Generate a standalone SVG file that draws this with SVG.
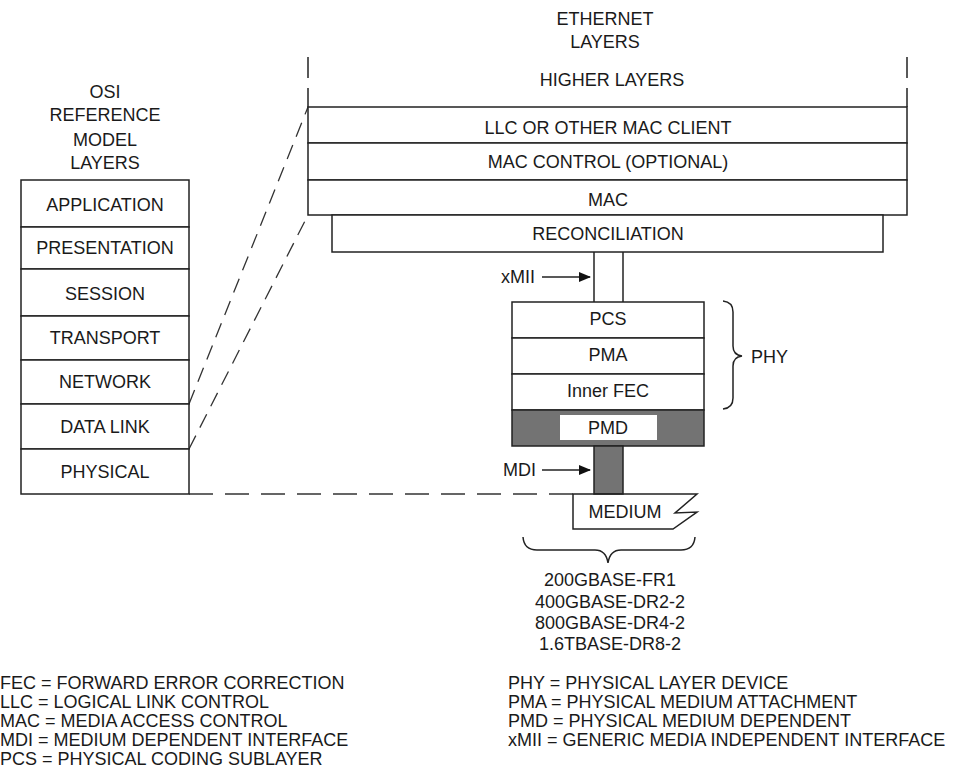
<svg xmlns="http://www.w3.org/2000/svg" width="953" height="771" viewBox="0 0 953 771">
<defs>
<marker id="arr" markerWidth="12" markerHeight="12" refX="11" refY="5" orient="auto" markerUnits="userSpaceOnUse" viewBox="0 0 12 10">
<path d="M0,0 L12,5 L0,10 Z" fill="#111"/>
</marker>
</defs>
<style>
text{font-family:"Liberation Sans",Arial,sans-serif;font-size:18px;fill:#1a1a1a;}
.c{text-anchor:middle;}
.lg{font-size:18px;}
.box{fill:#fff;stroke:#222;stroke-width:1.5;}
.ln{stroke:#222;stroke-width:1.5;fill:none;}
.dash{stroke:#333;stroke-width:1.3;fill:none;stroke-dasharray:15 9;}
.dashb{stroke:#333;stroke-width:1.3;fill:none;stroke-dasharray:24 12;}
.gray{fill:#737373;stroke:#222;stroke-width:1.5;}
</style>
<rect width="953" height="771" fill="#fff"/>

<g id="connectors">
<line class="dash" x1="189" y1="404" x2="308" y2="107"/>
<line class="dash" x1="189" y1="449" x2="308" y2="215"/>
<line class="dashb" x1="189" y1="494" x2="573" y2="494"/>
<line class="ln" x1="594" y1="252" x2="594" y2="302"/>
<line class="ln" x1="623" y1="252" x2="623" y2="302"/>
<line class="ln" x1="542" y1="277" x2="590" y2="277" marker-end="url(#arr)"/>
<line class="ln" x1="542" y1="470" x2="590" y2="470" marker-end="url(#arr)"/>
</g>

<g id="osi-title">
<text class="c" x="105" y="98">OSI</text>
<text class="c" x="105" y="121">REFERENCE</text>
<text class="c" x="105" y="146">MODEL</text>
<text class="c" x="105" y="169">LAYERS</text>
</g>
<g id="osi-application"><rect class="box" x="21" y="180" width="168" height="47"/><text class="c" x="105" y="211">APPLICATION</text></g>
<g id="osi-presentation"><rect class="box" x="21" y="227" width="168" height="42"/><text class="c" x="105" y="254">PRESENTATION</text></g>
<g id="osi-session"><rect class="box" x="21" y="269" width="168" height="47"/><text class="c" x="105" y="300">SESSION</text></g>
<g id="osi-transport"><rect class="box" x="21" y="316" width="168" height="44"/><text class="c" x="105" y="344">TRANSPORT</text></g>
<g id="osi-network"><rect class="box" x="21" y="360" width="168" height="44"/><text class="c" x="105" y="388">NETWORK</text></g>
<g id="osi-datalink"><rect class="box" x="21" y="404" width="168" height="45"/><text class="c" x="105" y="433">DATA LINK</text></g>
<g id="osi-physical"><rect class="box" x="21" y="449" width="168" height="45"/><text class="c" x="105" y="478">PHYSICAL</text></g>

<g id="eth-title">
<text class="c" x="605" y="25">ETHERNET</text>
<text class="c" x="605" y="48">LAYERS</text>
</g>
<g id="eth-higher">
<line class="ln" x1="308" y1="57" x2="308" y2="78"/>
<line class="ln" x1="308" y1="88" x2="308" y2="107"/>
<line class="ln" x1="907" y1="57" x2="907" y2="78"/>
<line class="ln" x1="907" y1="88" x2="907" y2="107"/>
<text class="c" x="612" y="86">HIGHER LAYERS</text>
</g>
<g id="eth-llc"><rect class="box" x="308" y="107" width="599" height="36"/><text class="c" x="608" y="134">LLC OR OTHER MAC CLIENT</text></g>
<g id="eth-maccontrol"><rect class="box" x="308" y="143" width="599" height="37"/><text class="c" x="608" y="168">MAC CONTROL (OPTIONAL)</text></g>
<g id="eth-mac"><rect class="box" x="308" y="180" width="599" height="35"/><text class="c" x="608" y="206">MAC</text></g>
<g id="eth-reconciliation"><rect class="box" x="332" y="215" width="551" height="37"/><text class="c" x="608" y="240">RECONCILIATION</text></g>

<g id="xmii-label"><text x="501" y="283">xMII</text></g>

<g id="phy-pcs"><rect class="box" x="512" y="302" width="192" height="36"/><text class="c" x="608" y="325">PCS</text></g>
<g id="phy-pma"><rect class="box" x="512" y="338" width="192" height="36"/><text class="c" x="608" y="361">PMA</text></g>
<g id="phy-innerfec"><rect class="box" x="512" y="374" width="192" height="36"/><text class="c" x="608" y="397">Inner FEC</text></g>
<g id="phy-pmd">
<rect class="gray" x="512" y="410" width="192" height="36"/>
<rect x="560" y="415" width="97" height="25" fill="#fff"/>
<text class="c" x="608" y="434">PMD</text>
</g>
<g id="phy-brace">
<path class="ln" d="M723,301 Q733,302 733,312 L733,346 Q733,355 742,356 Q733,357 733,366 L733,398 Q733,408 723,409"/>
<text x="751" y="363">PHY</text>
</g>

<g id="mdi">
<rect class="gray" x="594" y="446" width="29" height="48"/>
<text x="503" y="476">MDI</text>
</g>

<g id="medium">
<path class="ln" d="M573,494 L697,494 L675,513 L697,512 L673,529 L573,529 Z" fill="#fff"/>
<text class="c" x="625" y="518">MEDIUM</text>
</g>

<g id="medium-brace">
<path class="ln" d="M523,537 Q524,550 537,550 L595,550 Q606,550 608,563 Q610,550 621,550 L681,550 Q694,550 695,537"/>
<text class="c" x="610" y="586">200GBASE-FR1</text>
<text class="c" x="610" y="608">400GBASE-DR2-2</text>
<text class="c" x="610" y="629">800GBASE-DR4-2</text>
<text class="c" x="610" y="650">1.6TBASE-DR8-2</text>
</g>

<g id="legend-left">
<text class="lg" x="0" y="689">FEC = FORWARD ERROR CORRECTION</text>
<text class="lg" x="0" y="708">LLC = LOGICAL LINK CONTROL</text>
<text class="lg" x="0" y="727">MAC = MEDIA ACCESS CONTROL</text>
<text class="lg" x="0" y="746">MDI = MEDIUM DEPENDENT INTERFACE</text>
<text class="lg" x="0" y="765">PCS = PHYSICAL CODING SUBLAYER</text>
</g>
<g id="legend-right">
<text class="lg" x="508" y="689">PHY = PHYSICAL LAYER DEVICE</text>
<text class="lg" x="508" y="708">PMA = PHYSICAL MEDIUM ATTACHMENT</text>
<text class="lg" x="508" y="727">PMD = PHYSICAL MEDIUM DEPENDENT</text>
<text class="lg" x="508" y="746">xMII = GENERIC MEDIA INDEPENDENT INTERFACE</text>
</g>
</svg>
